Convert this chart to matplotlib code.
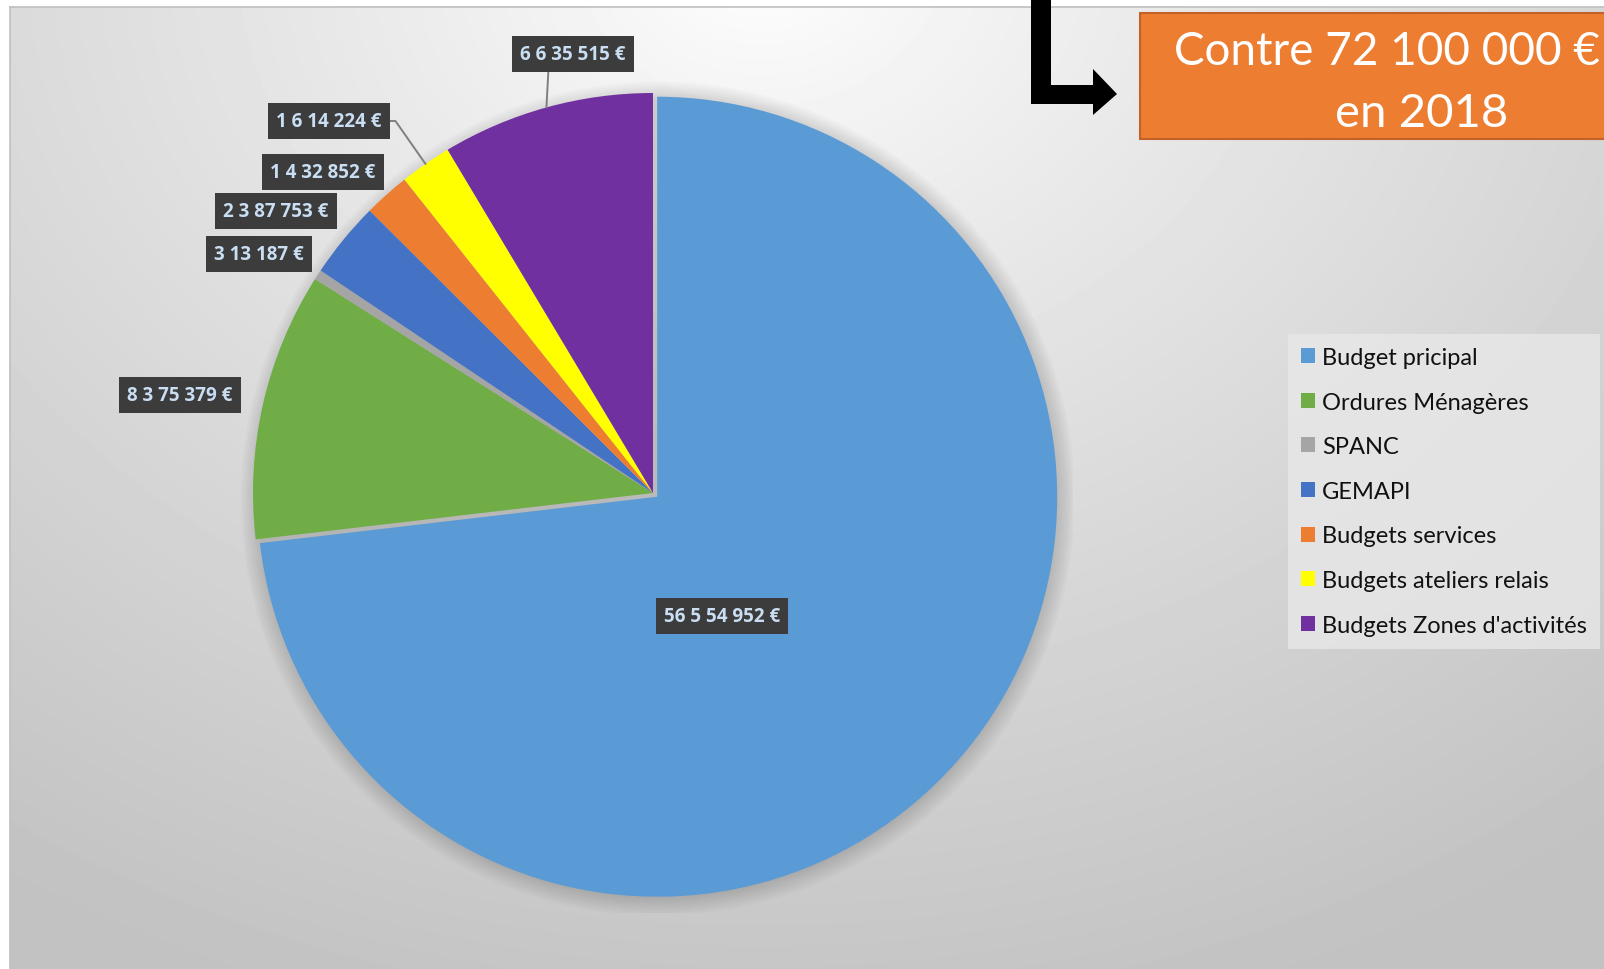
import numpy as np
import matplotlib
matplotlib.use("Agg")
import matplotlib.pyplot as plt
from matplotlib.patches import Rectangle, Polygon, Circle

plt.rcParams['font.family'] = ['Lato', 'DejaVu Sans']

# data
categories = ["Budget pricipal", "Ordures Ménagères", "SPANC", "GEMAPI",
              "Budgets services", "Budgets ateliers relais", "Budgets Zones d'activités"]
values = [56554952, 8375379, 313187, 2387753, 1432852, 1614224, 6635515]
value_labels = ["56 5 54 952 €", "8 3 75 379 €", "3 13 187 €", "2 3 87 753 €",
                "1 4 32 852 €", "1 6 14 224 €", "6 6 35 515 €"]
colors = ["#5B9BD5", "#70AD47", "#A5A5A5", "#4472C4", "#ED7D31", "#FFFF00", "#7030A0"]
explode = [0.014, 0, 0, 0, 0, 0, 0]

# label box centres (figure pixels) and leader line settings
label_pos = [(722, 617), (180, 396), (259, 255), (276, 212), (323, 173), (329, 122), (573, 55)]
leaders = [None, None, None, None, None,
           dict(relpos=(1, 0.5), connectionstyle="angle,angleA=0,angleB=125,rad=0"),
           dict(relpos=(0.27, 0), connectionstyle="arc3")]

W, H = 1604, 970
fig = plt.figure(figsize=(W / 100, H / 100), dpi=100)
fig.patch.set_facecolor("white")

# background panel
bg = fig.add_axes([0, 0, 1, 1])
bg.set_xlim(0, W)
bg.set_ylim(H, 0)
bg.axis("off")
yy, xx = np.mgrid[8:H:2, 10:W:2]
d = np.hypot((xx - 760) / 1.25, (yy + 40))
v = 1 - 0.24 * np.clip(d / 1100, 0, 1) ** 0.85
bg.imshow(v, cmap="gray", vmin=0, vmax=1, extent=(10, W, H, 8), aspect="auto", zorder=0)
bg.plot([10, W], [8, 8], color="#bfbfbf", lw=1.2, zorder=1)
bg.plot([10, 10], [8, H], color="#c0c0c0", lw=1.2, zorder=1)

# pie
cx, cy, R = 653, 494, 400
ext = 1.05
pax = fig.add_axes([(cx - R * ext) / W, (H - cy - R * ext) / H, 2 * R * ext / W, 2 * R * ext / H])
for k in range(8):
    pax.add_patch(Circle((0.012, -0.014), 1.0 + k * 0.006, color="black", alpha=0.018, lw=0, zorder=0))
wedges, _ = pax.pie(values, colors=colors, startangle=90, counterclock=False,
                    explode=explode, radius=1.0, wedgeprops=dict(linewidth=0))
pax.set_xlim(-ext, ext)
pax.set_ylim(-ext, ext)
pax.axis("off")
for w in wedges:
    w.set_zorder(2)

box = dict(boxstyle="square,pad=0.42", fc="#3c3c3c", ec="none")
label_font = dict(family="Open Sans", fontsize=13.5, fontweight="bold", color="#c9def2")
for w, txt, pos, lead in zip(wedges, value_labels, label_pos, leaders):
    if lead:
        mid = np.deg2rad((w.theta1 + w.theta2) / 2)
        cxw, cyw = w.center
        pax.annotate(txt, xy=(cxw + np.cos(mid), cyw + np.sin(mid)), xycoords="data",
                     xytext=pos, textcoords=bg.transData, ha="center", va="center",
                     bbox=box, annotation_clip=False, zorder=5,
                     arrowprops=dict(arrowstyle="-", color="#7f7f7f", lw=1.4,
                                     shrinkA=0, shrinkB=0, **lead), **label_font)
    else:
        pax.annotate(txt, xy=pos, xycoords=bg.transData, ha="center", va="center",
                     bbox=box, annotation_clip=False, zorder=5, **label_font)

# legend
leg = fig.legend(wedges, categories, loc="upper left",
                 bbox_to_anchor=(1288 / W, 1 - 335 / H), frameon=True,
                 fontsize=17, handlelength=0.6, handleheight=0.6, handletextpad=0.3,
                 labelspacing=1.0, borderpad=0.55, borderaxespad=0)
leg.get_frame().set_facecolor("#e8e8e8")
leg.get_frame().set_alpha(0.8)
leg.get_frame().set_edgecolor("none")
leg.get_frame().set_boxstyle("square", pad=0)
for t in leg.get_texts():
    t.set_color("#111111")

# orange callout and arrow
bg.add_patch(Rectangle((1140, 14), 520, 126, fc="#ED7D31", ec="#C0622A", lw=1.5, zorder=3))
bg.text(1174, 65, "Contre 72 100 000 €", ha="left", va="baseline", fontsize=33,
        color="white", zorder=4)
bg.text(1422, 127, "en 2018", ha="center", va="baseline", fontsize=34,
        color="white", zorder=4)
arrow = [(1031, 0), (1051, 0), (1051, 86), (1093, 86), (1093, 70), (1117, 95),
         (1093, 116), (1093, 105), (1031, 105)]
bg.add_patch(Polygon(arrow, closed=True, fc="black", ec="none", zorder=3))

fig.savefig("out.png", dpi=100)
